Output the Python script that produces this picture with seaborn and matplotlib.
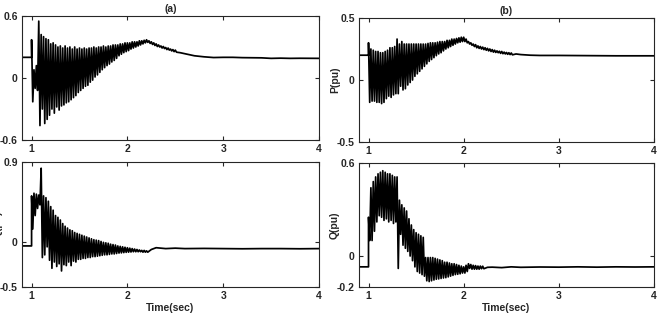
import numpy as np
import pandas as pd
import matplotlib.pyplot as plt
import seaborn as sns

sns.set_style('ticks')
plt.rcParams['font.family'] = ['Liberation Sans', 'DejaVu Sans']
plt.rcParams['font.weight'] = 'bold'

dt = 0.025  # spacing of the oscillation peaks (sec)

# (a) top left
a_pre_t = [0.9, 1.0]
a_pre_y = [0.2, 0.2]
a_t0 = 1.0
a_hi = [0.37, 0.08, 0.12, 0.55, 0.42, 0.40, 0.38, 0.37, 0.33, 0.34,
        0.32, 0.30, 0.31, 0.29, 0.31, 0.29, 0.30, 0.28, 0.30, 0.28,
        0.29, 0.28, 0.29, 0.28, 0.29, 0.29, 0.30, 0.29, 0.30, 0.30,
        0.31, 0.30, 0.31, 0.31, 0.32, 0.32, 0.32, 0.33, 0.33, 0.34,
        0.34, 0.34, 0.35, 0.35, 0.35, 0.36, 0.36, 0.365, 0.37, 0.36,
        0.35, 0.34, 0.33, 0.32, 0.31, 0.305, 0.295, 0.29, 0.28, 0.275,
        0.27]
a_lo = [-0.23, -0.10, -0.12, -0.46, -0.30, -0.44, -0.40, -0.36, -0.30, -0.34,
        -0.28, -0.31, -0.27, -0.26, -0.24, -0.23, -0.21, -0.19, -0.17, -0.14,
        -0.12, -0.10, -0.08, -0.07, -0.04, -0.02, 0.01, 0.03, 0.055, 0.08,
        0.10, 0.12, 0.135, 0.155, 0.17, 0.19, 0.215, 0.23, 0.245, 0.255,
        0.265, 0.28, 0.29, 0.30, 0.31, 0.32, 0.33, 0.34, 0.345, 0.335,
        0.325, 0.315, 0.305, 0.30, 0.29, 0.285, 0.275, 0.27, 0.262, 0.255,
        0.25]
a_tail_t = [2.55, 2.6, 2.7, 2.8, 2.9, 3.0, 3.1, 3.2, 3.3, 3.4, 3.5, 3.6, 3.7, 3.8, 3.9, 4.0]
a_tail_y = [0.245, 0.235, 0.215, 0.205, 0.198, 0.2, 0.2, 0.197, 0.196, 0.195,
            0.19, 0.192, 0.19, 0.191, 0.19, 0.19]

# (b) top right, P(pu)
b_pre_t = [0.9, 1.0]
b_pre_y = [0.2, 0.2]
b_t0 = 1.0
b_hi = [0.30, 0.25, 0.24, 0.23, 0.23, 0.22, 0.22, 0.23, 0.24, 0.26,
        0.26, 0.27, 0.33, 0.29, 0.31, 0.29, 0.29, 0.29, 0.29, 0.29,
        0.29, 0.29, 0.29, 0.29, 0.29, 0.295, 0.30, 0.30, 0.30, 0.305,
        0.31, 0.31, 0.31, 0.32, 0.32, 0.33, 0.33, 0.335, 0.34, 0.345,
        0.345, 0.33, 0.31, 0.30, 0.29, 0.285, 0.275, 0.27, 0.265, 0.26,
        0.255, 0.25, 0.245, 0.24, 0.235, 0.232, 0.23, 0.225, 0.222, 0.22,
        0.218]
b_lo = [-0.18, -0.17, -0.17, -0.18, -0.18, -0.19, -0.18, -0.15, -0.13, -0.14,
        -0.12, -0.11, -0.11, -0.05, -0.08, -0.07, -0.04, -0.02, 0.0, 0.03,
        0.05, 0.07, 0.09, 0.11, 0.13, 0.15, 0.165, 0.18, 0.196, 0.21,
        0.22, 0.235, 0.25, 0.26, 0.27, 0.28, 0.29, 0.30, 0.305, 0.31,
        0.31, 0.30, 0.29, 0.28, 0.27, 0.26, 0.255, 0.25, 0.245, 0.24,
        0.235, 0.23, 0.225, 0.222, 0.22, 0.215, 0.212, 0.21, 0.207, 0.205,
        0.203]
b_tail_t = [2.55, 2.6, 2.7, 2.8, 3.0, 3.2, 3.4, 3.6, 3.8, 4.0]
b_tail_y = [0.21, 0.205, 0.2, 0.198, 0.198, 0.197, 0.196, 0.195, 0.195, 0.195]

# (c) bottom left
c_pre_t = [0.9, 1.0]
c_pre_y = [-0.04, -0.04]
c_t0 = 1.0
c_hi = [0.52, 0.55, 0.54, 0.53, 0.83, 0.52, 0.50, 0.46, 0.40, 0.36,
        0.30, 0.28, 0.25, 0.21, 0.18, 0.16, 0.14, 0.13, 0.11, 0.10,
        0.09, 0.08, 0.07, 0.06, 0.05, 0.04, 0.03, 0.025, 0.02, 0.01,
        0.0, -0.005, -0.01, -0.02, -0.025, -0.03, -0.04, -0.045, -0.05, -0.055,
        -0.06, -0.065, -0.07, -0.075, -0.08, -0.085, -0.09, -0.09, -0.095]
c_lo = [0.15, 0.30, 0.38, 0.42, -0.17, -0.14, -0.05, -0.20, -0.29, -0.22,
        -0.27, -0.24, -0.32, -0.25, -0.26, -0.22, -0.26, -0.21, -0.22, -0.19,
        -0.19, -0.18, -0.18, -0.17, -0.17, -0.16, -0.16, -0.155, -0.15, -0.145,
        -0.14, -0.14, -0.135, -0.13, -0.13, -0.125, -0.12, -0.118, -0.115, -0.112,
        -0.11, -0.108, -0.105, -0.105, -0.105, -0.105, -0.11, -0.11, -0.11]
c_tail_t = [2.25, 2.3, 2.35, 2.4, 2.5, 2.6, 2.8, 3.0, 3.2, 3.4, 3.6, 3.8, 4.0]
c_tail_y = [-0.08, -0.06, -0.065, -0.07, -0.065, -0.07, -0.068, -0.07, -0.072,
            -0.07, -0.07, -0.072, -0.07]

# (d) bottom right, Q(pu)
d_pre_t = [0.9, 1.0]
d_pre_y = [-0.07, -0.07]
d_t0 = 1.0
d_hi = [0.25, 0.44, 0.48, 0.51, 0.53, 0.54, 0.55, 0.54, 0.53, 0.53,
        0.52, 0.51, 0.51, 0.36, 0.33, 0.31, 0.29, 0.24, 0.20, 0.17,
        0.15, 0.14, 0.13, 0.12, -0.01, -0.01, -0.01, -0.01, -0.015, -0.02,
        -0.025, -0.03, -0.04, -0.04, -0.045, -0.05, -0.05, -0.055, -0.06, -0.065,
        -0.07, -0.06, -0.05, -0.055, -0.06, -0.062, -0.065, -0.065, -0.066]
d_lo = [0.10, 0.10, 0.16, 0.22, 0.26, 0.25, 0.23, 0.24, 0.22, 0.23,
        0.21, 0.22, -0.08, 0.14, 0.07, 0.05, 0.03, 0.0, -0.03, -0.07,
        -0.10, -0.11, -0.12, -0.13, -0.16, -0.165, -0.16, -0.155, -0.15, -0.148,
        -0.145, -0.142, -0.14, -0.135, -0.13, -0.125, -0.12, -0.118, -0.115, -0.11,
        -0.11, -0.10, -0.08, -0.085, -0.085, -0.085, -0.085, -0.082, -0.082]
d_tail_t = [2.25, 2.3, 2.4, 2.5, 2.6, 2.8, 3.0, 3.2, 3.4, 3.6, 3.8, 4.0]
d_tail_y = [-0.073, -0.072, -0.075, -0.07, -0.073, -0.071, -0.072, -0.07, -0.072,
            -0.07, -0.071, -0.07]

x_ticks = [1, 2, 3, 4]


def trace(pre_t, pre_y, t0, hi, lo, tail_t, tail_y):
    t = list(pre_t)
    y = list(pre_y)
    for k, (h, l) in enumerate(zip(hi, lo)):
        t += [t0 + k * dt, t0 + k * dt + dt / 2]
        y += [h, l]
    t += tail_t
    y += tail_y
    return pd.DataFrame({'t': t, 'y': y})


panels = [
    (trace(a_pre_t, a_pre_y, a_t0, a_hi, a_lo, a_tail_t, a_tail_y),
     [22, 16, 319, 140], (-0.6, 0.6), [-0.6, 0, 0.6], ['-0.6', '0', '0.6'], '(a)', None, None),
    (trace(b_pre_t, b_pre_y, b_t0, b_hi, b_lo, b_tail_t, b_tail_y),
     [359, 18, 654, 142], (-0.5, 0.5), [-0.5, 0, 0.5], ['-0.5', '0', '0.5'], '(b)', 'P(pu)', None),
    (trace(c_pre_t, c_pre_y, c_t0, c_hi, c_lo, c_tail_t, c_tail_y),
     [22, 162, 319, 287], (-0.5, 0.9), [-0.5, 0, 0.9], ['-0.5', '0', '0.9'], None, 'Q(pu)', 'Time(sec)'),
    (trace(d_pre_t, d_pre_y, d_t0, d_hi, d_lo, d_tail_t, d_tail_y),
     [359, 163, 654, 287], (-0.2, 0.6), [-0.2, 0, 0.6], ['-0.2', '0', '0.6'], None, 'Q(pu)', 'Time(sec)'),
]

W, H = 662, 316
fig = plt.figure(figsize=(W / 100, H / 100), dpi=100)
for df, (l, t, r, b), ylim, yt, ytl, title, ylab, xlab in panels:
    ax = fig.add_axes([l / W, (H - b) / H, (r - l) / W, (b - t) / H])
    sns.lineplot(x='t', y='y', data=df, ax=ax, estimator=None, sort=False,
                 color='black', linewidth=1.25)
    ax.set_xlim(0.9, 4)
    ax.set_ylim(*ylim)
    ax.set_xticks(x_ticks)
    ax.set_xticklabels([str(v) for v in x_ticks])
    ax.set_yticks(yt)
    ax.set_yticklabels(ytl)
    ax.tick_params(direction='in', length=3, width=0.8, top=True, right=True,
                   labelsize=7.5, pad=3, colors='#262626')
    for s in ax.spines.values():
        s.set_linewidth(0.8)
        s.set_color('#262626')
    ax.set_xlabel(xlab if xlab else '', fontsize=7.5, fontweight='bold', labelpad=1)
    ax.set_ylabel(ylab if ylab else '', fontsize=7.5, fontweight='bold')
    ax.yaxis.set_label_coords(-0.065, 0.5)
    if title:
        ax.set_title(title, fontsize=7.5, fontweight='bold', pad=3)

fig.savefig('out.png', dpi=100)
